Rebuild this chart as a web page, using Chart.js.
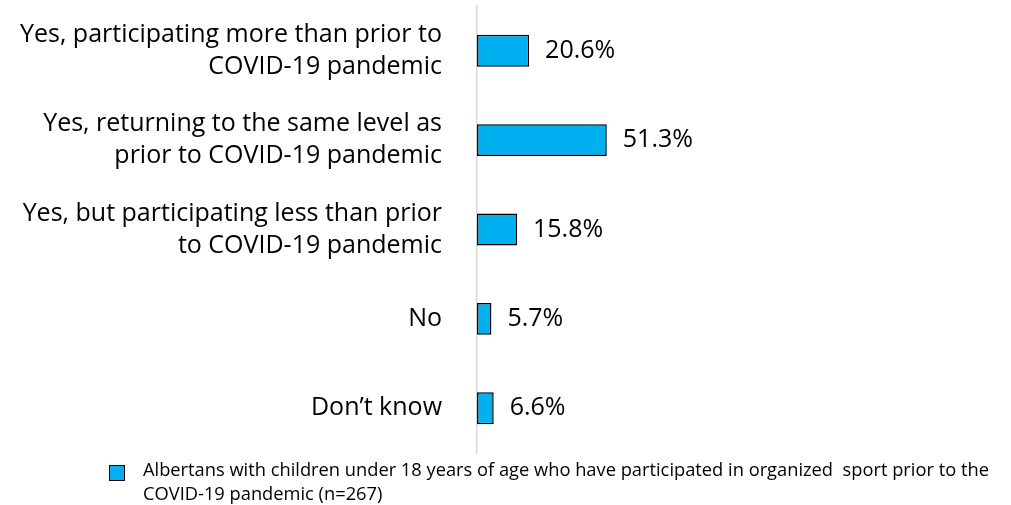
<!DOCTYPE html>
<html>
<head>
<meta charset="utf-8">
<script src="https://cdn.jsdelivr.net/npm/chart.js@4/dist/chart.umd.min.js"></script>
<style>
  html, body { margin: 0; padding: 0; background: #fff; }
  #wrap { position: relative; width: 1011px; height: 505px; }
  #chart { position: absolute; left: 0; top: 0; }
  #legend {
    position: absolute; left: 109px; top: 457px; width: 900px;
    font-family: "Open Sans", sans-serif; font-size: 18.3px;
    line-height: 24px; color: #000;
  }
  #legend .box {
    position: absolute; left: 0; top: 8px; width: 14px; height: 14px;
    border: 1.5px solid #000; box-sizing: content-box;
  }
  #legend .txt { margin-left: 34px; white-space: pre-wrap; }
</style>
</head>
<body>
<div id="wrap">
  <canvas id="chart" width="1011" height="505"></canvas>
  <div id="legend"><span class="box"></span><div class="txt"></div></div>
</div>
<script>
// Response categories (multi-line labels)
const categories = [
  ["Yes, participating more than prior to", "COVID-19 pandemic"],
  ["Yes, returning to the same level as", "prior to COVID-19 pandemic"],
  ["Yes, but participating less than prior", "to COVID-19 pandemic"],
  ["No"],
  ["Don\u2019t know"]
];

// Share of respondents, percent
const shares = [20.6, 51.3, 15.8, 5.7, 6.6];

const seriesLabel = "Albertans with children under 18 years of age who have participated in organized  sport prior to the COVID-19 pandemic (n=267)";

const barFill = "#00B0F0";

// Writes each bar's value just past its end
const valueLabels = {
  id: "valueLabels",
  afterDatasetsDraw(chart) {
    const ctx = chart.ctx;
    const meta = chart.getDatasetMeta(0);
    ctx.save();
    ctx.font = "25px 'Open Sans', sans-serif";
    ctx.fillStyle = "#000";
    ctx.textAlign = "left";
    ctx.textBaseline = "middle";
    meta.data.forEach((bar, i) => {
      const v = chart.data.datasets[0].data[i];
      ctx.fillText(v.toFixed(1) + "%", bar.x + 16, bar.y);
    });
    ctx.restore();
  }
};

const chart = new Chart(document.getElementById("chart"), {
  type: "bar",
  data: {
    labels: categories,
    datasets: [{
      label: seriesLabel,
      data: shares,
      backgroundColor: barFill,
      borderColor: "#000",
      borderWidth: 1.5,
      borderSkipped: false,
      barPercentage: 0.357,
      categoryPercentage: 1
    }]
  },
  options: {
    indexAxis: "y",
    responsive: false,
    animation: false,
    layout: { padding: { top: 6, bottom: 52, right: 281, left: 0 } },
    plugins: {
      legend: { display: false },
      tooltip: { enabled: false }
    },
    scales: {
      x: {
        display: false,
        min: 0,
        max: 100
      },
      y: {
        afterFit(scale) {
          scale.width = 477;
          scale.paddingTop = 0;
          scale.paddingBottom = 0;
        },
        grid: { display: false, drawTicks: false },
        border: { display: true, color: "#d9d9d9", width: 1.5 },
        ticks: {
          padding: 35,
          color: "#000",
          font: { family: "'Open Sans', sans-serif", size: 25, lineHeight: 1.28 }
        }
      }
    }
  },
  plugins: [valueLabels]
});

// Legend below the plot
const leg = document.getElementById("legend");
leg.querySelector(".box").style.background = barFill;
leg.querySelector(".txt").textContent = seriesLabel;
</script>
</body>
</html>
